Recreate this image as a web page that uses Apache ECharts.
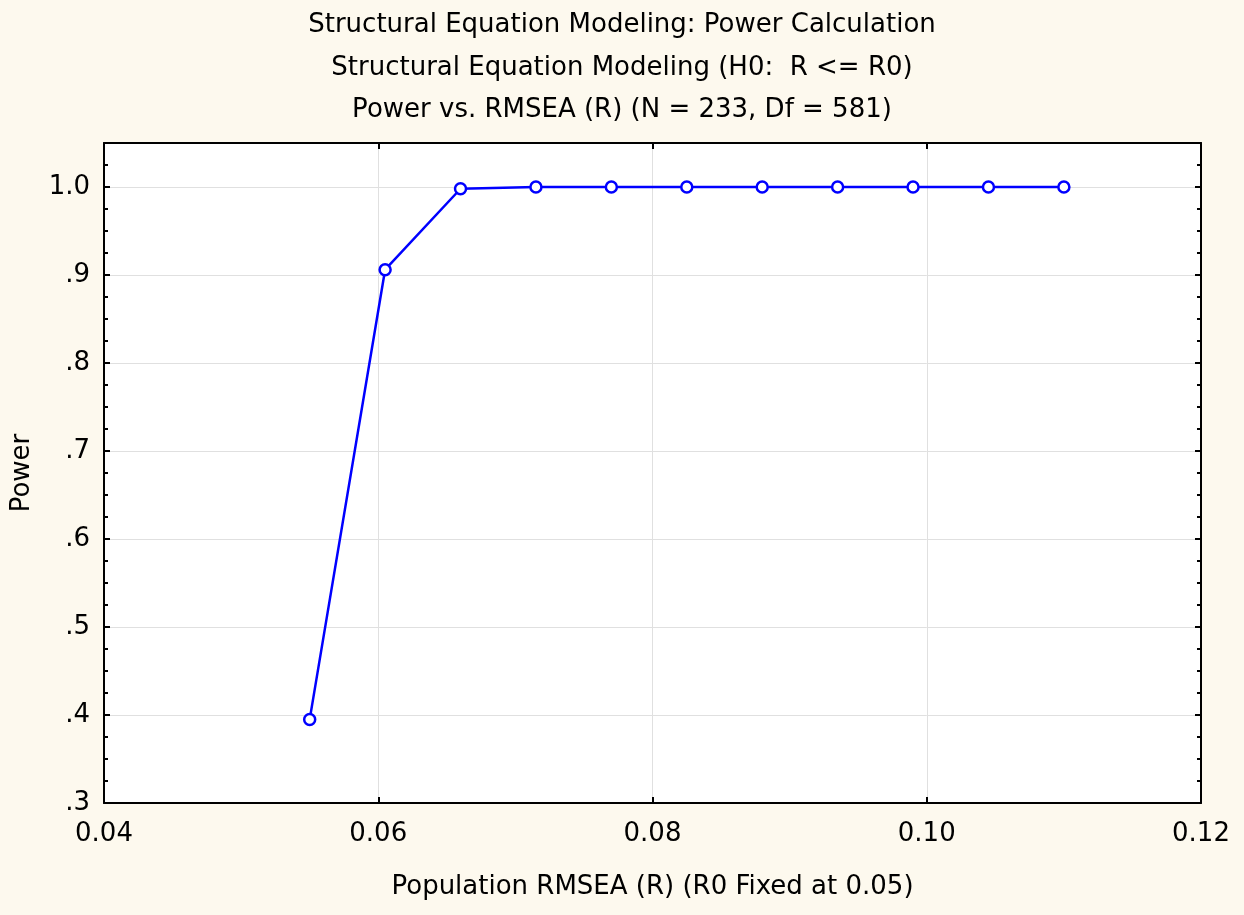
<!DOCTYPE html>
<html>
<head>
<meta charset="utf-8">
<script src="https://cdn.jsdelivr.net/npm/echarts@6/dist/echarts.min.js"></script>
<style>
html,body{margin:0;padding:0;background:#fdf9ee;}
#chart{width:1244px;height:915px;}
</style>
</head>
<body>
<div id="chart"></div>
<script>
const titles = [
  "Structural Equation Modeling: Power Calculation",
  "Structural Equation Modeling (H0:  R <= R0)",
  "Power vs. RMSEA (R) (N = 233, Df = 581)"
];
const xLabel = "Population RMSEA (R) (R0 Fixed at 0.05)";
const yLabel = "Power";
const rmsea = [0.055, 0.0605, 0.066, 0.0715, 0.077, 0.0825, 0.088, 0.0935, 0.099, 0.1045, 0.11];
const power = [0.395, 0.906, 0.998, 1.0, 1.0, 1.0, 1.0, 1.0, 1.0, 1.0, 1.0];

const font = '"DejaVu Sans", sans-serif';
const chart = echarts.init(document.getElementById('chart'));
const fmtY = v => {
  const r = Math.round(v * 10) / 10;
  if (Math.abs(v - r) > 1e-6) return '';
  return r >= 1 ? r.toFixed(1) : r.toFixed(1).replace(/^0/, '');
};
const fmtX = v => v.toFixed(2);
const axisLine = {show: true, lineStyle: {color: '#000', width: 2}};
const yBase = {
  type: 'value', min: 0.3, max: 1.05, interval: 0.1,
  axisLine: axisLine,
  axisTick: {show: true, inside: true, length: 6, lineStyle: {color: '#000', width: 2}},
  minorTick: {show: true, splitNumber: 4, length: 4, lineStyle: {color: '#000', width: 2}},
};
const xBase = {
  type: 'value', min: 0.04, max: 0.12, interval: 0.02,
  axisLine: axisLine,
  axisTick: {show: true, inside: true, length: 6, lineStyle: {color: '#000', width: 2}},
};
chart.setOption({
  backgroundColor: '#fdf9ee',
  animation: false,
  title: titles.map((t, i) => ({
    text: t, left: 'center', top: [7, 50, 92][i],
    textStyle: {fontFamily: font, fontSize: 26, fontWeight: 'normal', color: '#000'}
  })),
  grid: {left: 104, right: 43, top: 143, bottom: 112, show: true, backgroundColor: '#fff', borderWidth: 0},
  xAxis: [
    Object.assign({}, xBase, {
      position: 'bottom',
      name: xLabel, nameLocation: 'middle', nameGap: 71,
      nameTextStyle: {fontFamily: font, fontSize: 26, color: '#000'},
      axisLabel: {formatter: fmtX, fontFamily: font, fontSize: 26, color: '#000', margin: 18, showMinLabel: true, showMaxLabel: true},
      splitLine: {show: true, lineStyle: {color: '#e0e0e0', width: 1}}
    }),
    Object.assign({}, xBase, {
      position: 'top', axisLabel: {show: false}, splitLine: {show: false}
    })
  ],
  yAxis: [
    Object.assign({}, yBase, {
      position: 'left',
      name: yLabel, nameLocation: 'middle', nameGap: 69,
      nameTextStyle: {fontFamily: font, fontSize: 26, color: '#000'},
      axisLabel: {formatter: fmtY, fontFamily: font, fontSize: 26, color: '#000', margin: 14},
      splitLine: {show: true, lineStyle: {color: '#e0e0e0', width: 1}}
    }),
    Object.assign({}, yBase, {
      position: 'right', axisLabel: {show: false}, splitLine: {show: false}
    })
  ],
  series: [{
    type: 'line',
    xAxisIndex: 0, yAxisIndex: 0,
    data: rmsea.map((x, i) => [x, power[i]]),
    symbol: 'circle', symbolSize: 11, showAllSymbol: true,
    lineStyle: {color: '#0000ff', width: 2.5},
    itemStyle: {color: '#fff', borderColor: '#0000ff', borderWidth: 2.5},
    z: 5
  }]
});
</script>
</body>
</html>
